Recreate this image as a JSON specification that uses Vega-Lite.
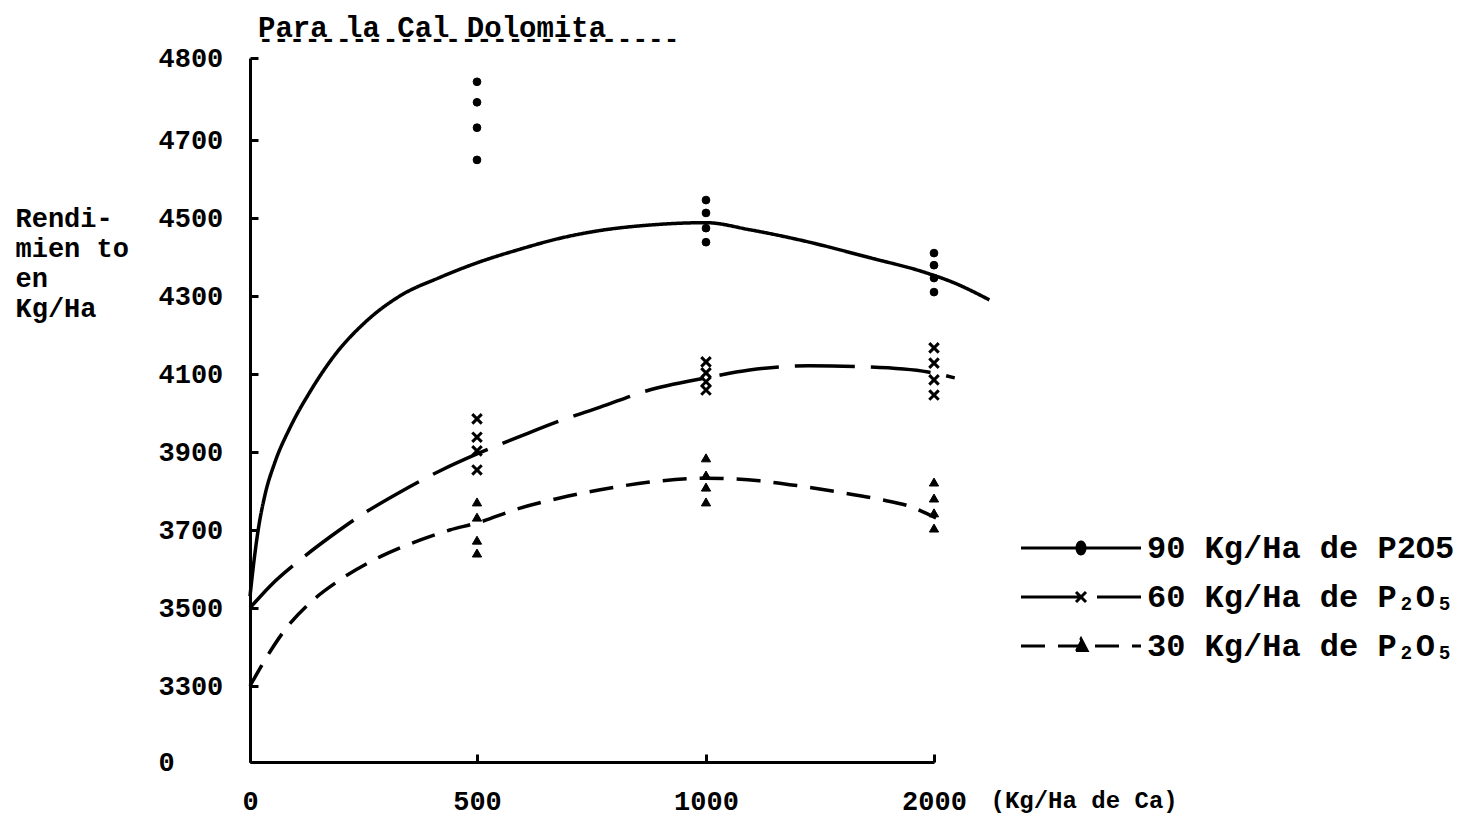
{
  "$schema": "https://vega.github.io/schema/vega-lite/v6.json",
  "width": 690,
  "height": 704,
  "autosize": {"type": "none"},
  "padding": {"left": 250, "top": 58, "right": 538, "bottom": 62},
  "background": "white",
  "config": {
    "view": {"stroke": null},
    "font": "Liberation Mono",
    "axis": {"grid": false, "domainColor": "black", "domainWidth": 3, "tickColor": "black", "tickWidth": 3,
      "labelColor": "black", "labelFont": "Liberation Mono", "labelFontWeight": "bold", "labelFontSize": 27,
      "titleColor": "black", "titleFont": "Liberation Mono", "titleFontWeight": "bold", "titleFontSize": 27}
  },
  "title": {
    "text": "Para la Cal Dolomita",
    "subtitle": "---------------------------",
    "anchor": "start", "frame": "group", "dx": 8, "offset": -8,
    "font": "Liberation Mono", "fontSize": 29, "fontWeight": "bold", "color": "black",
    "subtitleFont": "Liberation Mono", "subtitleFontSize": 26, "subtitleFontWeight": "bold", "subtitleColor": "black",
    "subtitlePadding": -17
  },
  "datasets": {
    "curvas": [
      {"serie": "90 Kg/Ha de P2O5", "ca": 0, "rend": 3530},
      {"serie": "90 Kg/Ha de P2O5", "ca": 9, "rend": 3623},
      {"serie": "90 Kg/Ha de P2O5", "ca": 18, "rend": 3700},
      {"serie": "90 Kg/Ha de P2O5", "ca": 33, "rend": 3790},
      {"serie": "90 Kg/Ha de P2O5", "ca": 55, "rend": 3874},
      {"serie": "90 Kg/Ha de P2O5", "ca": 88, "rend": 3962},
      {"serie": "90 Kg/Ha de P2O5", "ca": 132, "rend": 4054},
      {"serie": "90 Kg/Ha de P2O5", "ca": 187, "rend": 4149},
      {"serie": "90 Kg/Ha de P2O5", "ca": 253, "rend": 4232},
      {"serie": "90 Kg/Ha de P2O5", "ca": 330, "rend": 4300},
      {"serie": "90 Kg/Ha de P2O5", "ca": 419, "rend": 4348},
      {"serie": "90 Kg/Ha de P2O5", "ca": 500, "rend": 4385},
      {"serie": "90 Kg/Ha de P2O5", "ca": 594, "rend": 4420},
      {"serie": "90 Kg/Ha de P2O5", "ca": 681, "rend": 4448},
      {"serie": "90 Kg/Ha de P2O5", "ca": 769, "rend": 4468},
      {"serie": "90 Kg/Ha de P2O5", "ca": 878, "rend": 4482},
      {"serie": "90 Kg/Ha de P2O5", "ca": 1000, "rend": 4488},
      {"serie": "90 Kg/Ha de P2O5", "ca": 1191, "rend": 4470},
      {"serie": "90 Kg/Ha de P2O5", "ca": 1409, "rend": 4444},
      {"serie": "90 Kg/Ha de P2O5", "ca": 1726, "rend": 4397},
      {"serie": "90 Kg/Ha de P2O5", "ca": 1952, "rend": 4362},
      {"serie": "90 Kg/Ha de P2O5", "ca": 2091, "rend": 4333},
      {"serie": "90 Kg/Ha de P2O5", "ca": 2243, "rend": 4290},
      {"serie": "60 Kg/Ha de P₂O₅", "ca": 0, "rend": 3500},
      {"serie": "60 Kg/Ha de P₂O₅", "ca": 44, "rend": 3556},
      {"serie": "60 Kg/Ha de P₂O₅", "ca": 110, "rend": 3623},
      {"serie": "60 Kg/Ha de P₂O₅", "ca": 176, "rend": 3682},
      {"serie": "60 Kg/Ha de P₂O₅", "ca": 242, "rend": 3736},
      {"serie": "60 Kg/Ha de P₂O₅", "ca": 330, "rend": 3797},
      {"serie": "60 Kg/Ha de P₂O₅", "ca": 419, "rend": 3852},
      {"serie": "60 Kg/Ha de P₂O₅", "ca": 500, "rend": 3895},
      {"serie": "60 Kg/Ha de P₂O₅", "ca": 594, "rend": 3940},
      {"serie": "60 Kg/Ha de P₂O₅", "ca": 681, "rend": 3980},
      {"serie": "60 Kg/Ha de P₂O₅", "ca": 769, "rend": 4015},
      {"serie": "60 Kg/Ha de P₂O₅", "ca": 871, "rend": 4057},
      {"serie": "60 Kg/Ha de P₂O₅", "ca": 1000, "rend": 4090},
      {"serie": "60 Kg/Ha de P₂O₅", "ca": 1191, "rend": 4110},
      {"serie": "60 Kg/Ha de P₂O₅", "ca": 1452, "rend": 4121},
      {"serie": "60 Kg/Ha de P₂O₅", "ca": 1713, "rend": 4118},
      {"serie": "60 Kg/Ha de P₂O₅", "ca": 1974, "rend": 4105},
      {"serie": "60 Kg/Ha de P₂O₅", "ca": 2091, "rend": 4090},
      {"serie": "30 Kg/Ha de P₂O₅", "ca": 0, "rend": 3300},
      {"serie": "30 Kg/Ha de P₂O₅", "ca": 33, "rend": 3367},
      {"serie": "30 Kg/Ha de P₂O₅", "ca": 77, "rend": 3444},
      {"serie": "30 Kg/Ha de P₂O₅", "ca": 132, "rend": 3513},
      {"serie": "30 Kg/Ha de P₂O₅", "ca": 198, "rend": 3572},
      {"serie": "30 Kg/Ha de P₂O₅", "ca": 286, "rend": 3631},
      {"serie": "30 Kg/Ha de P₂O₅", "ca": 374, "rend": 3674},
      {"serie": "30 Kg/Ha de P₂O₅", "ca": 440, "rend": 3700},
      {"serie": "30 Kg/Ha de P₂O₅", "ca": 500, "rend": 3718},
      {"serie": "30 Kg/Ha de P₂O₅", "ca": 594, "rend": 3756},
      {"serie": "30 Kg/Ha de P₂O₅", "ca": 681, "rend": 3782},
      {"serie": "30 Kg/Ha de P₂O₅", "ca": 769, "rend": 3803},
      {"serie": "30 Kg/Ha de P₂O₅", "ca": 878, "rend": 3823},
      {"serie": "30 Kg/Ha de P₂O₅", "ca": 1000, "rend": 3833},
      {"serie": "30 Kg/Ha de P₂O₅", "ca": 1235, "rend": 3826},
      {"serie": "30 Kg/Ha de P₂O₅", "ca": 1409, "rend": 3813},
      {"serie": "30 Kg/Ha de P₂O₅", "ca": 1583, "rend": 3797},
      {"serie": "30 Kg/Ha de P₂O₅", "ca": 1757, "rend": 3779},
      {"serie": "30 Kg/Ha de P₂O₅", "ca": 1887, "rend": 3762},
      {"serie": "30 Kg/Ha de P₂O₅", "ca": 2009, "rend": 3731}
    ],
    "puntos": [
      {"serie": "90 Kg/Ha de P2O5", "ca": 500, "rend": 4771},
      {"serie": "90 Kg/Ha de P2O5", "ca": 500, "rend": 4746},
      {"serie": "90 Kg/Ha de P2O5", "ca": 500, "rend": 4715},
      {"serie": "90 Kg/Ha de P2O5", "ca": 500, "rend": 4649},
      {"serie": "90 Kg/Ha de P2O5", "ca": 1000, "rend": 4546},
      {"serie": "90 Kg/Ha de P2O5", "ca": 1000, "rend": 4513},
      {"serie": "90 Kg/Ha de P2O5", "ca": 1000, "rend": 4474},
      {"serie": "90 Kg/Ha de P2O5", "ca": 1000, "rend": 4438},
      {"serie": "90 Kg/Ha de P2O5", "ca": 2000, "rend": 4410},
      {"serie": "90 Kg/Ha de P2O5", "ca": 2000, "rend": 4379},
      {"serie": "90 Kg/Ha de P2O5", "ca": 2000, "rend": 4346},
      {"serie": "90 Kg/Ha de P2O5", "ca": 2000, "rend": 4310},
      {"serie": "60 Kg/Ha de P₂O₅", "ca": 500, "rend": 3985},
      {"serie": "60 Kg/Ha de P₂O₅", "ca": 500, "rend": 3938},
      {"serie": "60 Kg/Ha de P₂O₅", "ca": 500, "rend": 3903},
      {"serie": "60 Kg/Ha de P₂O₅", "ca": 500, "rend": 3854},
      {"serie": "60 Kg/Ha de P₂O₅", "ca": 1000, "rend": 4131},
      {"serie": "60 Kg/Ha de P₂O₅", "ca": 1000, "rend": 4103},
      {"serie": "60 Kg/Ha de P₂O₅", "ca": 1000, "rend": 4080},
      {"serie": "60 Kg/Ha de P₂O₅", "ca": 1000, "rend": 4059},
      {"serie": "60 Kg/Ha de P₂O₅", "ca": 2000, "rend": 4167},
      {"serie": "60 Kg/Ha de P₂O₅", "ca": 2000, "rend": 4128},
      {"serie": "60 Kg/Ha de P₂O₅", "ca": 2000, "rend": 4085},
      {"serie": "60 Kg/Ha de P₂O₅", "ca": 2000, "rend": 4046},
      {"serie": "30 Kg/Ha de P₂O₅", "ca": 500, "rend": 3772},
      {"serie": "30 Kg/Ha de P₂O₅", "ca": 500, "rend": 3733},
      {"serie": "30 Kg/Ha de P₂O₅", "ca": 500, "rend": 3674},
      {"serie": "30 Kg/Ha de P₂O₅", "ca": 500, "rend": 3641},
      {"serie": "30 Kg/Ha de P₂O₅", "ca": 1000, "rend": 3885},
      {"serie": "30 Kg/Ha de P₂O₅", "ca": 1000, "rend": 3841},
      {"serie": "30 Kg/Ha de P₂O₅", "ca": 1000, "rend": 3810},
      {"serie": "30 Kg/Ha de P₂O₅", "ca": 1000, "rend": 3772},
      {"serie": "30 Kg/Ha de P₂O₅", "ca": 2000, "rend": 3823},
      {"serie": "30 Kg/Ha de P₂O₅", "ca": 2000, "rend": 3782},
      {"serie": "30 Kg/Ha de P₂O₅", "ca": 2000, "rend": 3744},
      {"serie": "30 Kg/Ha de P₂O₅", "ca": 2000, "rend": 3705}
    ]
  },
  "encoding": {
    "x": {"field": "ca", "type": "quantitative",
      "scale": {"domain": [0, 500, 1000, 2000], "range": [0, 227, 456, 684], "nice": false, "zero": false},
      "axis": {"values": [0, 500, 1000, 2000], "format": "d", "tickSize": -8, "labelPadding": 34, "labelBaseline": "top", "labelFlush": false,
        "title": "(Kg/Ha de Ca)", "titleFontSize": 24, "titleX": 740, "titleY": 38, "titleAlign": "left", "titleBaseline": "middle", "titleAnchor": null}},
    "y": {"field": "rend", "type": "quantitative",
      "scale": {"domain": [0, 3300, 4700, 4800], "range": [704, 628, 82, 0], "nice": false, "zero": false},
      "axis": {"values": [0, 3300, 3500, 3700, 3900, 4100, 4300, 4500, 4700, 4800], "format": "d", "tickSize": -8,
        "labelAlign": "left", "labelPadding": 100, "labelBaseline": "middle",
        "title": ["Rendi-", "mien to", "en", "Kg/Ha"], "titleAngle": 0, "titleAlign": "left", "titleBaseline": "top",
        "titleX": -235, "titleY": 147, "titleLineHeight": 30}}
  },
  "layer": [
    {
      "data": {"name": "curvas"},
      "mark": {"type": "line", "interpolate": "monotone", "stroke": "black", "strokeWidth": 3.5},
      "encoding": {
        "detail": {"field": "serie"},
        "strokeDash": {"field": "serie", "type": "nominal",
          "scale": {"domain": ["90 Kg/Ha de P2O5", "60 Kg/Ha de P₂O₅", "30 Kg/Ha de P₂O₅"], "range": [[1, 0], [60, 16], [24, 13]]},
          "legend": {"title": null, "orient": "none", "legendX": 815, "legendY": 474, "symbolSize": 400,
            "symbolStrokeWidth": 3, "symbolStrokeColor": "black", "symbolFillColor": "black",
            "labelFont": "Liberation Mono", "labelFontWeight": "bold", "labelFontSize": 32, "labelColor": "black",
            "labelOffset": 50, "rowPadding": 17, "labelLimit": 500,
            "encode": {"symbols": {"update": {
              "shape": {"signal": "indexof(datum.value, '90') === 0 ? 'M-6,0H6M0,-0.6A0.4,0.6 0 1,1 0,0.6A0.4,0.6 0 1,1 0,-0.6Z' : indexof(datum.value, '60') === 0 ? 'M-6,0H6M-0.5,-0.5L0.5,0.5M0.5,-0.5L-0.5,0.5' : 'M-6,0H6M0,-0.7L0.6,0.45L-0.6,0.45Z'"},
              "fill": {"value": "black"}, "stroke": {"value": "black"}, "strokeWidth": {"value": 3}}}}}
        }
      }
    },
    {
      "data": {"name": "puntos"},
      "transform": [{"filter": "indexof(datum.serie, '90') === 0"}],
      "mark": {"type": "point", "shape": "circle", "filled": true, "fill": "black", "stroke": "black", "strokeWidth": 1, "size": 60, "opacity": 1}
    },
    {
      "data": {"name": "puntos"},
      "transform": [{"filter": "indexof(datum.serie, '60') === 0"}],
      "mark": {"type": "point", "shape": "M-1,-1L1,1M1,-1L-1,1", "filled": false, "stroke": "black", "strokeWidth": 3, "size": 90, "opacity": 1}
    },
    {
      "data": {"name": "puntos"},
      "transform": [{"filter": "indexof(datum.serie, '30') === 0"}],
      "mark": {"type": "point", "shape": "triangle-up", "filled": true, "fill": "black", "stroke": "black", "strokeWidth": 1, "size": 85, "opacity": 1}
    }
  ]
}
